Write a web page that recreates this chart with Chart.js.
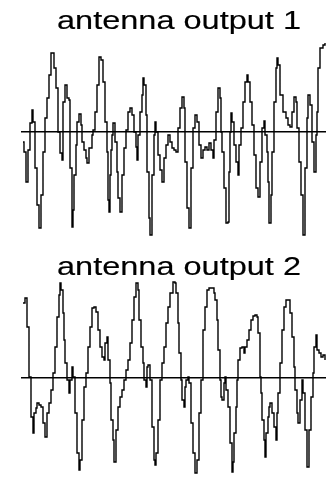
<!DOCTYPE html>
<html lang="en">
<head>
  <meta charset="utf-8">
  <title>antenna outputs</title>
  <script src="https://cdn.jsdelivr.net/npm/chart.js@4.4.1/dist/chart.umd.min.js"></script>
  <style>
    html, body { margin: 0; padding: 0; background: #fff; }
    #wrap { position: relative; width: 326px; height: 477px; overflow: hidden; }
    canvas { position: absolute; left: 0; }
    #out1 { top: 0; }
    #out2 { top: 240px; }
  </style>
</head>
<body>
  <div id="wrap">
    <canvas id="out1" width="326" height="240"></canvas>
    <canvas id="out2" width="326" height="237"></canvas>
  </div>
  <script>
    // sample index and amplitude for each antenna
    const t1 = [1,2,4,6,8,10,11,13,15,17,19,21,23,25,27,29,31,32,34,36,38,40,41,43,45,47,48,50,51,52,54,55,57,59,60,62,64,65,67,70,71,73,75,77,79,81,83,85,86,87,88,89,90,91,93,95,96,98,100,102,104,106,108,110,112,114,115,116,118,120,121,122,124,125,127,128,130,132,133,134,136,138,140,142,144,146,148,150,152,154,156,158,160,162,163,165,167,169,171,173,175,177,179,181,183,185,187,189,191,192,194,196,198,199,200,202,204,206,207,208,209,210,212,214,216,217,219,221,223,225,226,228,230,232,234,236,238,240,242,243,245,246,247,249,250,252,254,255,256,258,261,264,266,268,270,272,274,275,277,279,281,283,285,286,288,290,292,294,295,296,298,301,303];
    const amp1 = [-10,-20,-50,-18,9,22,10,-36,-73,-96,-63,-20,14,34,57,79,79,64,44,0,-21,-28,30,47,34,32,-36,-95,-78,-43,-13,10,18,7,-10,-18,-26,-31,-16,-3,2,20,47,75,72,50,10,-20,-68,-80,-43,-18,-3,9,-10,-40,-66,-80,-43,-16,2,20,24,17,0,-15,-28,-3,20,37,54,47,17,-40,-86,-103,-43,-3,10,0,-23,-38,-50,-26,-13,-3,-10,-16,-18,-20,4,24,35,24,-30,-76,-96,-36,4,17,10,-13,-26,-18,-15,-18,-11,-18,-26,-8,20,44,34,0,-20,-56,-91,-90,-40,0,19,10,-13,-30,-43,-13,4,30,50,57,50,30,7,-23,-56,-65,-30,4,11,-3,-20,-50,-91,-63,-20,30,64,74,67,37,20,14,7,5,20,35,30,4,-30,-63,-103,-36,14,37,27,-10,-40,-3,20,64,84,87,89];

    const t2 = [1,3,5,7,9,11,12,14,15,17,19,21,23,25,27,29,31,33,35,37,38,39,41,42,43,45,47,48,50,51,53,55,57,58,60,62,64,66,68,70,72,74,76,78,80,82,83,85,86,88,89,91,92,94,96,98,100,102,104,106,108,110,112,114,116,117,119,121,122,124,125,126,128,130,132,133,134,136,138,140,142,144,146,148,151,153,154,156,157,159,160,162,163,164,166,167,169,171,173,175,177,179,181,183,185,187,190,192,193,195,196,198,199,200,202,203,204,206,208,210,211,212,214,215,216,218,220,222,223,225,227,229,231,233,235,236,238,239,240,242,243,244,246,247,248,250,252,254,255,256,258,260,262,264,266,268,270,272,273,275,276,278,280,281,283,285,287,289,291,292,294,295,297,299,301,303];
    const amp2 = [75,80,51,1,-39,-55,-35,-30,-25,-27,-29,-45,-59,-35,-25,-12,5,31,61,83,95,88,65,38,15,-2,-15,-2,11,1,-35,-75,-92,-82,-42,-9,5,31,51,70,71,66,48,31,21,18,35,41,18,-5,-42,-62,-84,-52,-29,-19,-12,-2,8,18,35,58,81,95,88,58,31,15,-2,-9,11,13,-2,-49,-82,-87,-75,-42,-2,15,31,55,71,85,96,95,85,55,25,-2,-22,-29,-9,-2,1,-5,-45,-75,-95,-82,-35,-2,48,71,88,90,90,85,78,58,28,-2,-19,-22,-5,1,-12,-29,-65,-94,-84,-55,-29,-2,18,30,31,25,31,38,48,58,62,63,61,45,1,-15,-42,-62,-79,-55,-39,-29,-25,-35,-49,-62,-35,-15,15,48,71,78,78,65,41,11,-12,-35,-45,-22,-2,-15,-52,-89,-52,-19,5,31,43,28,25,21,23,18];

    const titles = ['antenna output 1', 'antenna output 2'];
    const ampRange = [[-106, 92], [-97, 98]];
    const sampleRange = [0, 304];

    // horizontally widened title drawn above the plot
    const wideTitle = {
      id: 'wideTitle',
      afterDraw(chart, args, opts) {
        const ctx = chart.ctx;
        ctx.save();
        ctx.translate(opts.x, opts.y);
        ctx.scale(1.3, 1);
        ctx.font = '25px "Liberation Sans", Arial, sans-serif';
        ctx.fillStyle = '#000';
        ctx.strokeStyle = '#000';
        ctx.lineWidth = 0.15;
        ctx.textAlign = 'center';
        ctx.textBaseline = 'alphabetic';
        ctx.fillText(opts.text, 0, 0);
        ctx.strokeText(opts.text, 0, 0);
        ctx.restore();
      }
    };

    function makeChart(id, ts, amps, title, range, baseline, bottomPad) {
      const points = ts.map((t, i) => ({ x: t, y: amps[i] }));
      return new Chart(document.getElementById(id), {
        type: 'line',
        data: {
          datasets: [{
            data: points,
            borderColor: '#000',
            borderWidth: 1.4,
            pointRadius: 0,
            stepped: true,
            fill: false
          }]
        },
        options: {
          responsive: false,
          animation: false,
          devicePixelRatio: 1,
          layout: { padding: { top: 40, left: 22, right: 0, bottom: bottomPad } },
          scales: {
            x: {
              type: 'linear',
              min: sampleRange[0],
              max: sampleRange[1],
              position: { y: 0 },
              grid: { display: false },
              ticks: { display: false },
              border: { display: true, color: '#000', width: 1.6 }
            },
            y: { display: false, min: range[0], max: range[1] }
          },
          plugins: {
            legend: { display: false },
            tooltip: { enabled: false },
            wideTitle: { text: title, x: 179, y: baseline }
          }
        },
        plugins: [wideTitle]
      });
    }

    makeChart('out1', t1, amp1, titles[0], ampRange[0], 29, 2);
    makeChart('out2', t2, amp2, titles[1], ampRange[1], 35, 2);
  </script>
</body>
</html>
